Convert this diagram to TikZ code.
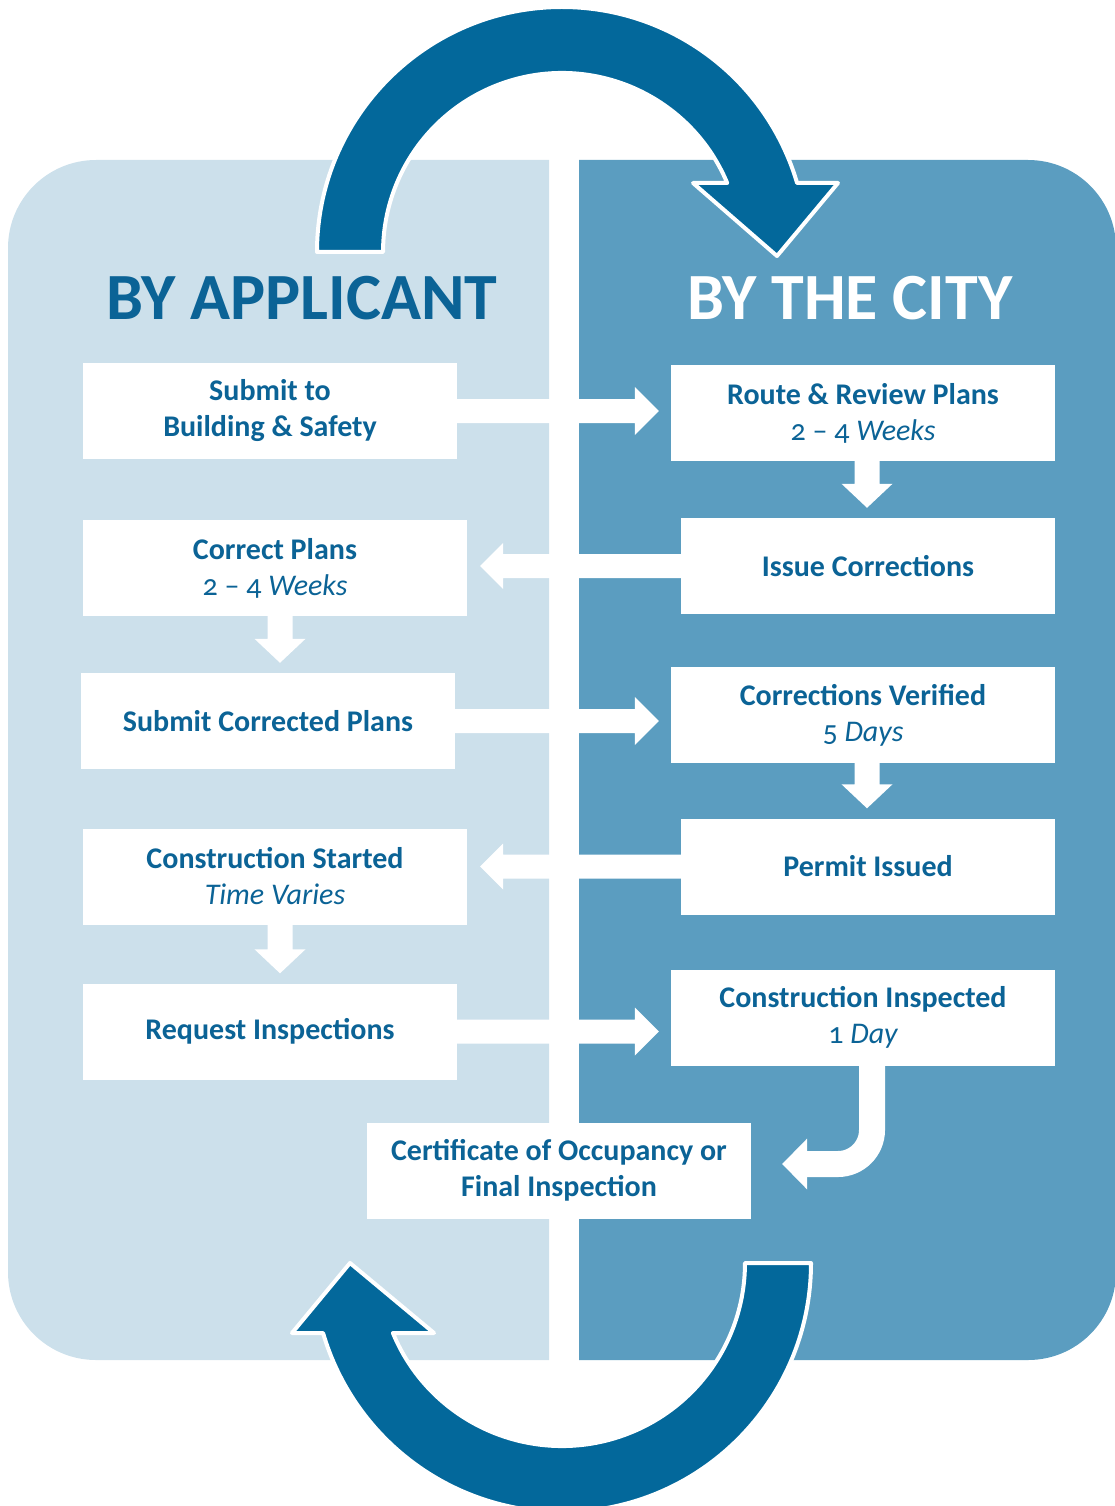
\documentclass[tikz,border=0pt]{standalone}
\usepackage{fontspec}
\setmainfont{Carlito}[Numbers=OldStyle]
\usetikzlibrary{calc}
\definecolor{lightpanel}{HTML}{CCE0EB}
\definecolor{darkpanel}{HTML}{5B9DC0}
\definecolor{arcblue}{HTML}{03689B}
\definecolor{textblue}{HTML}{0B6396}
\newcommand\arrRight[2]{\fill[blockarrow] let \p1=(#1.east), \p2=(#2.west) in
  (\x1,\y1+12) -- (\x2-36,\y1+12) -- (\x2-36,\y1+24) -- (\x2-12,\y1) --
  (\x2-36,\y1-24) -- (\x2-36,\y1-12) -- (\x1,\y1-12) -- cycle;}
\newcommand\arrLeft[2]{\fill[blockarrow] let \p1=(#1.west), \p2=(#2.east) in
  (\x1,\y1+12) -- (\x2+36,\y1+12) -- (\x2+36,\y1+23) -- (\x2+13,\y1) --
  (\x2+36,\y1-23) -- (\x2+36,\y1-12) -- (\x1,\y1-12) -- cycle;}
\newcommand\arrDown[3]{\fill[blockarrow] let \p1=(#1.south), \p2=(#2.north) in
  (\x1+#3-12.5,\y1) -- (\x1+#3-12.5,\y2+34) -- (\x1+#3-25.5,\y2+34) -- (\x1+#3,\y2+10) --
  (\x1+#3+25.5,\y2+34) -- (\x1+#3+12.5,\y2+34) -- (\x1+#3+12.5,\y1) -- cycle;}
\begin{document}
\begin{tikzpicture}[x=1pt,y=-1pt,
  box/.style={fill=white, inner sep=0pt, minimum width=374pt, minimum height=96pt,
    align=center, font=\bfseries\fontsize{30}{36}\selectfont, text=textblue},
  widebox/.style={box, minimum width=384pt},
  heading/.style={font=\bfseries\fontsize{66}{66}\selectfont, anchor=base, inner sep=0pt},
  blockarrow/.style={fill=white},
  bigarrow/.style={fill=arcblue, draw=white, line width=4pt, line join=round}]
\useasboundingbox (0,0) rectangle (1115,1506);
\clip (0,0) rectangle (1115,1506);
% panels
\fill[lightpanel] (96,160) arc[start angle=270, end angle=180, radius=88] -- (8,1272)
  arc[start angle=180, end angle=90, radius=88] -- (549,1360) -- (549,160) -- cycle;
\fill[darkpanel] (579,160) -- (1028,160) arc[start angle=270, end angle=360, radius=88]
  -- (1116,1272) arc[start angle=0, end angle=90, radius=88] -- (579,1360) -- cycle;
% headings
\node[heading, text=textblue] (happ) at (302,319) {BY APPLICANT};
\node[heading, text=white] (hcity) at (850,319) {BY THE CITY};
% boxes
\node[box] (sub) at (270,411) {Submit to\\Building \& Safety};
\node[widebox] (route) at (863,413) {Route \& Review Plans\\{\mdseries 2 – 4 \itshape Weeks}};
\node[box] (issue) at (868,566) {Issue Corrections};
\node[widebox] (correct) at (275,568) {Correct Plans\\{\mdseries 2 – 4 \itshape Weeks}};
\node[box] (subcor) at (268,721) {Submit Corrected Plans};
\node[widebox] (verified) at (863,715) {Corrections Verified\\{\mdseries 5 \itshape Days}};
\node[box] (permit) at (868,866.5) {Permit Issued};
\node[widebox] (started) at (275,876.5) {Construction Started\\{\mdseries\itshape Time Varies}};
\node[box] (request) at (270,1031.5) {Request Inspections};
\node[widebox] (inspected) at (863,1017.5) {Construction Inspected\\{\mdseries 1 \itshape Day}};
\node[widebox] (cert) at (559,1170.5) {Certificate of Occupancy or\\Final Inspection};
% block arrows
\arrRight{sub}{route}
\arrDown{route}{issue}{4}
\arrLeft{issue}{correct}
\arrDown{correct}{subcor}{5}
\arrRight{subcor}{verified}
\arrDown{verified}{permit}{4}
\arrLeft{permit}{started}
\arrDown{started}{request}{5}
\arrRight{request}{inspected}
\draw[white, line width=26pt, rounded corners=34pt] let \p1=(inspected.south), \p2=(cert.east) in
  (\x1+9,\y1) -- (\x1+9,\y2+6.5) -- (\x2+54,\y2+6.5);
\fill[blockarrow] let \p2=(cert.east) in
  (\x2+56,\y2+32) -- (\x2+31,\y2+6.5) -- (\x2+56,\y2-19) -- cycle;
% big circular arrows
\path[bigarrow] (317,252) arc[start angle=180, end angle=343.64, radius=245]
  -- (838,183) -- (777,256) -- (693,183) -- (727.2,183)
  arc[start angle=337.33, end angle=180, radius=179] -- cycle;
\path[bigarrow] (745,1263) -- (811,1263) arc[start angle=0, end angle=163.67, radius=249]
  -- (292,1333) -- (350,1263) -- (434,1333) -- (392.9,1333)
  arc[start angle=157.51, end angle=0, radius=183] -- cycle;
\end{tikzpicture}
\end{document}
